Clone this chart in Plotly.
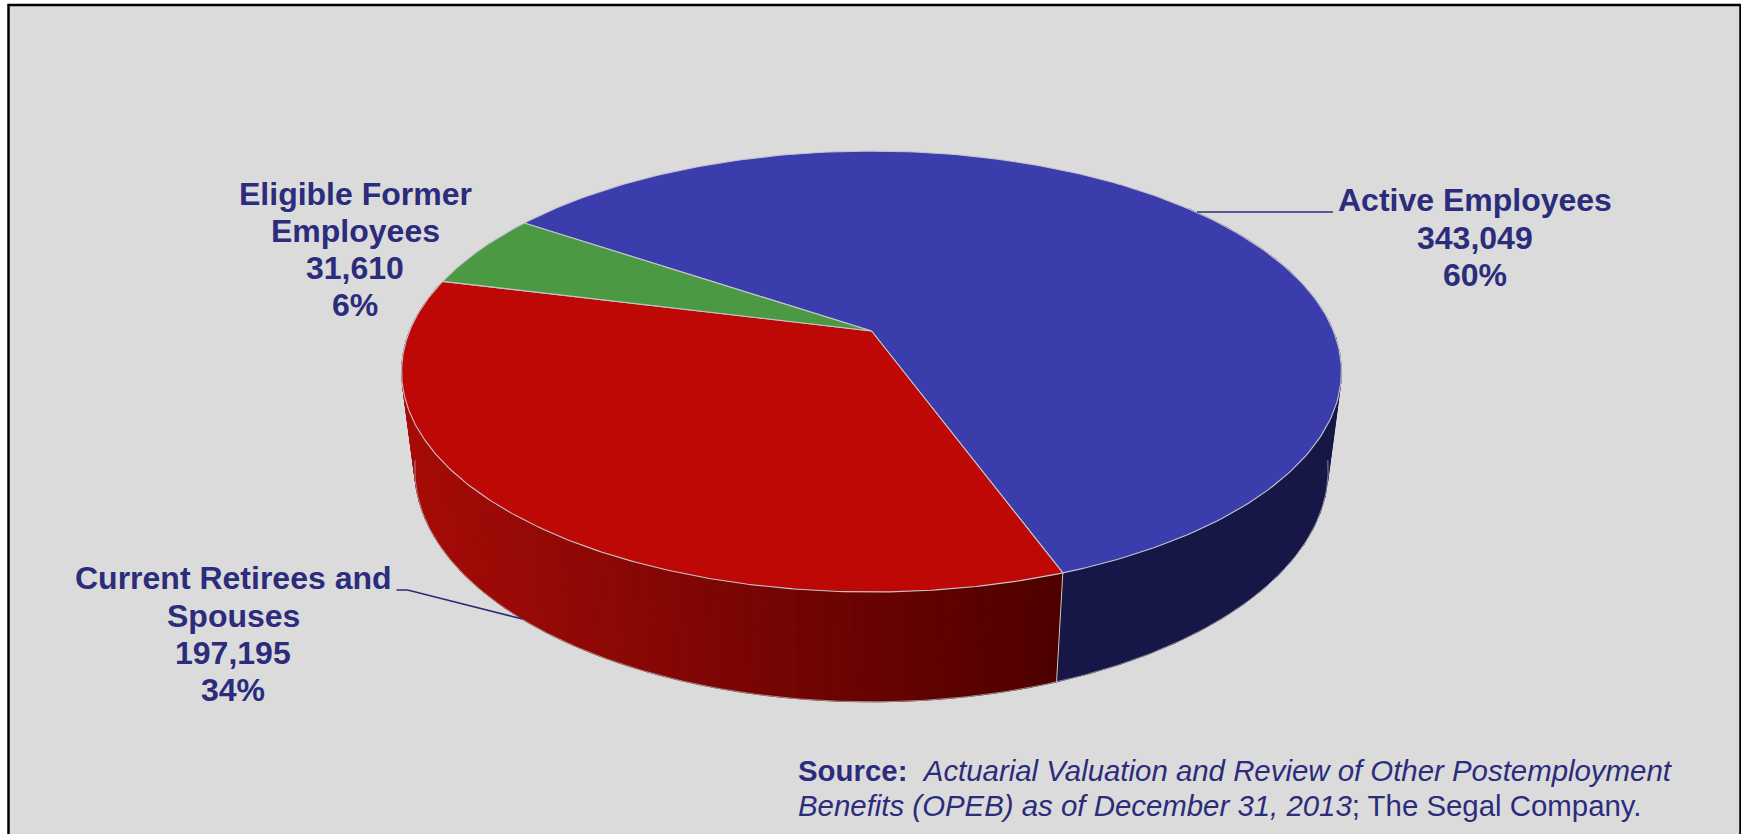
import numpy as np
import plotly.graph_objects as go

# ---- data ----
categories = ["Active Employees", "Current Retirees and Spouses", "Eligible Former Employees"]
values = [343049, 197195, 31610]
label_lines = [["Active Employees"], ["Current Retirees and", "Spouses"], ["Eligible Former", "Employees"]]
top_colors = ["#3B3DAC", "#BD0805", "#4B9A43"]
source_lines = [
    "<b>Source:</b>\u00a0\u00a0<i>Actuarial Valuation and Review of Other Postemployment</i>",
    "<i>Benefits (OPEB) as of December 31, 2013</i>; The Segal Company.",
]

# ---- layout / projection constants (pixels) ----
W, H = 1741, 834
CX, CY = 871.5, 331.0      # pie centre as projected
B, A = 461.9, 213.0        # projected radius factors
P = 0.1839                 # perspective of the disc
Q, DEPTH = 0.028, 100.0    # perspective and height of the base
START = 146.0              # degrees: where the first slice starts, running clockwise
BG = "#DBDBDB"
TEXT = "#2B2C7C"
EDGE = "#C4C4CE"
FONT = "Liberation Sans"


def top(deg):
    t = np.radians(deg)
    u, v = np.cos(t), np.sin(t)
    w = 1 + P * v
    return CX + B * u / w, CY - A * v / w


def base(deg):
    t = np.radians(deg)
    u, v = np.cos(t), np.sin(t)
    w = 1 + P * v + Q
    return CX + B * u / w, CY + (DEPTH - A * v) / w


def mix(c1, c2, f):
    f = min(max(f, 0), 1)
    return "rgb(%d,%d,%d)" % tuple(round(a + (b - a) * f) for a, b in zip(c1, c2))


total = sum(values)
sweeps = [v / total * 360 for v in values]
starts = START - np.concatenate([[0], np.cumsum(sweeps)[:-1]])
ends = starts - np.array(sweeps)

fig = go.Figure()


def quad(d0, d1, color):
    x0, y0 = top(d0)
    x1, y1 = top(d1)
    x2, y2 = base(d1)
    x3, y3 = base(d0)
    fig.add_trace(go.Scatter(x=[x0, x1, x2, x3, x0], y=[y0, y1, y2, y3, y0], mode="lines", fill="toself",
                             fillcolor=color, line=dict(color=color, width=1), hoverinfo="skip", showlegend=False))


# side wall: active slice, only its visible stretch
for d in np.linspace(40, ends[0], 30)[:-1]:
    quad(d, d - (40 - ends[0]) / 29, "#161747")
# side wall: retirees slice with its shaded gradient
steps = np.linspace(starts[1], ends[1], 90)
for d0, d1 in zip(steps[:-1], steps[1:]):
    xm = top((d0 + d1) / 2)[0]
    quad(d0, d1, mix((0xA6, 0x0B, 0x07), (0x4E, 0x00, 0x00), (xm - 405) / (1060 - 405)))

# outer edge of the base (front part only)
arc = np.linspace(-8, -172, 300)
bx, by = base(arc)
fig.add_trace(go.Scatter(x=bx, y=by, mode="lines", line=dict(color="#A9A9A9", width=0.8),
                         hoverinfo="skip", showlegend=False))
# seam between the walls
jx = [top(ends[0])[0], base(ends[0])[0]]
jy = [top(ends[0])[1], base(ends[0])[1]]
fig.add_trace(go.Scatter(x=jx, y=jy, mode="lines", line=dict(color="#C8C8C8", width=1),
                         hoverinfo="skip", showlegend=False))

# top face: one wedge per category
for name, s, e, c in zip(categories, starts, ends, top_colors):
    d = np.linspace(s, e, 240)
    x, y = top(d)
    fig.add_trace(go.Scatter(x=np.r_[CX, x, CX], y=np.r_[CY, y, CY], mode="lines", fill="toself", fillcolor=c,
                             line=dict(color=EDGE, width=1.1), name=name, hoverinfo="name", showlegend=False))

# labels: name lines, value, percent
label_pos = [(1475, [200, 238, 275]), (233, [578, 616, 653, 690]), (355, [194, 231, 268, 305])]
annotations = []
for lines, v, (lx, ys) in zip(label_lines, values, label_pos):
    texts = lines + [f"{v:,}", f"{round(v / total * 100)}%"]
    for t, ly in zip(texts, ys):
        annotations.append(dict(x=lx, y=ly, xref="x", yref="y", text=f"<b>{t}</b>", showarrow=False,
                                xanchor="center", yanchor="middle",
                                font=dict(family=FONT, size=32, color=TEXT)))
for t, ly in zip(source_lines, [770, 805]):
    annotations.append(dict(x=796, y=ly, xref="x", yref="y", text=t, showarrow=False, xanchor="left",
                            yanchor="middle", align="left", font=dict(family=FONT, size=29.4, color=TEXT)))

shapes = [
    dict(type="rect", layer="below", xref="x", yref="y", x0=8.5, y0=5, x1=1740.5, y1=850,
         fillcolor=BG, line=dict(color="#000000", width=2.5)),
    dict(type="path", layer="above", xref="x", yref="y", path="M1197,212 L1333,212",
         line=dict(color=TEXT, width=1.5)),
    dict(type="path", layer="above", xref="x", yref="y", path="M396.5,590 L407.6,590 L522.4,619",
         line=dict(color=TEXT, width=1.5)),
]

fig.update_layout(
    width=W, height=H, margin=dict(l=0, r=0, t=0, b=0), paper_bgcolor="#FFFFFF", plot_bgcolor="#FFFFFF",
    xaxis=dict(range=[0, W], visible=False, fixedrange=True),
    yaxis=dict(range=[H, 0], visible=False, fixedrange=True),
    showlegend=False, annotations=annotations, shapes=shapes,
)
fig.write_html("out.html", config={"displayModeBar": False},
               post_script="document.body.style.margin='0';document.body.style.overflow='hidden';")
